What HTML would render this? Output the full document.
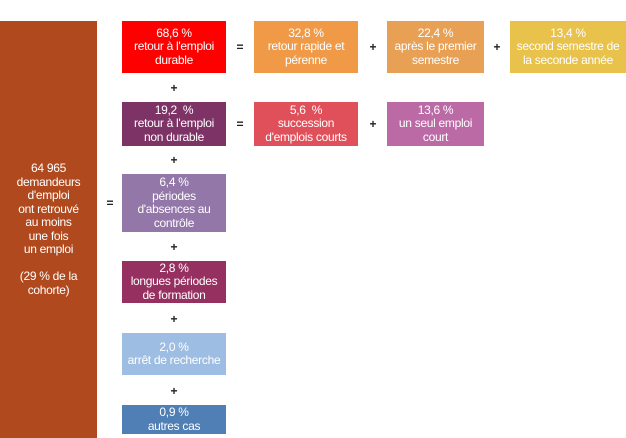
<!DOCTYPE html>
<html><head><meta charset="utf-8"><style>
body{margin:0;width:626px;height:438px;background:#fff;position:relative;overflow:hidden;font-family:"Liberation Sans",sans-serif}
.b{position:absolute;color:#fff;font-size:12px;line-height:13.5px;text-align:center;display:flex;align-items:center;justify-content:center;letter-spacing:-0.3px;box-sizing:border-box;white-space:nowrap}
.o{position:absolute;font-size:12px;font-weight:bold;color:#222;width:20px;text-align:center}
</style></head><body>
<div class="b" style="left:0;top:21px;width:97px;height:417px;background:#b04a1e">64 965<br>demandeurs<br>d'emploi<br>ont retrouvé<br>au moins<br>une fois<br>un emploi<br><br>(29 % de la<br>cohorte)</div>
<div class="o" style="left:100px;top:196px">=</div>

<div class="b" style="left:122px;top:21px;width:104px;height:52px;background:#ff0000">68,6 %<br>retour à l'emploi<br>durable</div>
<div class="o" style="left:164px;top:81px">+</div>
<div class="b" style="left:122px;top:102px;width:104px;height:44px;background:#7e3366">19,2 &nbsp;%<br>retour à l'emploi<br>non durable</div>
<div class="o" style="left:164px;top:153px">+</div>
<div class="b" style="left:122px;top:174px;width:104px;height:58px;background:#9277a8">6,4 %<br>périodes<br>d'absences au<br>contrôle</div>
<div class="o" style="left:164px;top:240px">+</div>
<div class="b" style="left:122px;top:261px;width:104px;height:42px;background:#963060">2,8 %<br>longues périodes<br>de formation</div>
<div class="o" style="left:164px;top:312px">+</div>
<div class="b" style="left:122px;top:333px;width:104px;height:42px;background:#9dbde3">2,0 %<br>arrêt de recherche</div>
<div class="o" style="left:164px;top:384px">+</div>
<div class="b" style="left:122px;top:405px;width:104px;height:29px;background:#4f7fb5">0,9 %<br>autres cas</div>

<div class="o" style="left:230px;top:40px">=</div>
<div class="b" style="left:254px;top:21px;width:104px;height:52px;background:#f09a48">32,8 %<br>retour rapide et<br>pérenne</div>
<div class="o" style="left:363px;top:40px">+</div>
<div class="b" style="left:387px;top:21px;width:97px;height:52px;background:#e8a055">22,4 %<br>après le premier<br>semestre</div>
<div class="o" style="left:487px;top:40px">+</div>
<div class="b" style="left:510px;top:21px;width:116px;height:52px;background:#e8c24a">13,4 %<br>second semestre de<br>la seconde année</div>

<div class="o" style="left:230px;top:117px">=</div>
<div class="b" style="left:254px;top:102px;width:104px;height:44px;background:#e0505a">5,6 &nbsp;%<br>succession<br>d'emplois courts</div>
<div class="o" style="left:363px;top:117px">+</div>
<div class="b" style="left:387px;top:102px;width:97px;height:44px;background:#bb6aa5">13,6 %<br>un seul emploi<br>court</div>
</body></html>
